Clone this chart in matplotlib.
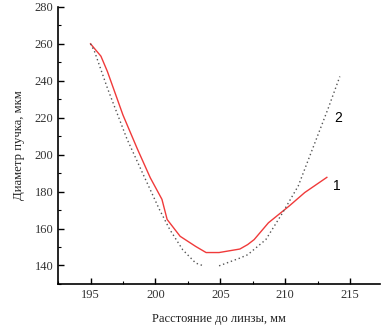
import matplotlib.pyplot as plt
import numpy as np
from matplotlib.ticker import MultipleLocator

# curve 1 (red, solid)
x1 = [195.0, 195.8, 196.3, 197.5, 198.6, 199.6, 200.5, 200.9, 201.9, 203.1, 203.9,
      204.9, 206.5, 207.1, 207.6, 208.7, 210.3, 211.5, 213.2]
y1 = [260.0, 253.3, 245.0, 221.4, 203.2, 187.5, 175.8, 164.9, 155.8, 150.3, 147.0,
      147.0, 148.9, 151.3, 154.0, 163.1, 172.2, 179.5, 187.7]

# curve 2 (grey, dotted), two parts with a gap near the minimum
x2a = [195.0, 195.3, 196.3, 197.8, 199.1, 200.3, 201.1, 202.1, 203.1, 203.7]
y2a = [260.0, 256.0, 236.0, 208.6, 188.6, 170.4, 159.5, 148.5, 141.3, 139.8]
x2b = [204.9, 206.5, 207.1, 208.5, 209.8, 211.0, 212.3, 213.3, 214.2]
y2b = [139.8, 144.0, 145.8, 154.0, 168.6, 183.1, 206.8, 225.0, 242.3]

fig = plt.figure(figsize=(3.82, 3.26), dpi=100)
ax = fig.add_axes([0.152, 0.129, 0.843, 0.85])

ax.plot(x1, y1, color="#f03a3a", lw=1.0)
ax.plot(x2a, y2a, color="#555555", lw=1.0, ls=(0, (1, 2)))
ax.plot(x2b, y2b, color="#555555", lw=1.0, ls=(0, (1, 2)))

ax.text(213.8, 220, "2", fontsize=10, family="Liberation Sans", ha="left", va="center")
ax.text(213.7, 183, "1", fontsize=10, family="Liberation Sans", ha="left", va="center")

ax.set_xlim(192.5, 217.3)
ax.set_ylim(130, 280)
ax.xaxis.set_major_locator(MultipleLocator(5))
ax.xaxis.set_minor_locator(MultipleLocator(2.5))
ax.yaxis.set_major_locator(MultipleLocator(20))
ax.yaxis.set_minor_locator(MultipleLocator(10))
ax.set_yticks([140, 160, 180, 200, 220, 240, 260, 280])

for s in ["top", "right"]:
    ax.spines[s].set_visible(False)
for s in ["left", "bottom"]:
    ax.spines[s].set_linewidth(1.2)

ax.tick_params(which="major", direction="in", length=4, width=1, labelsize=9,
               labelcolor="#333333")
ax.tick_params(which="minor", direction="in", length=2, width=0.8)
for lab in ax.get_xticklabels() + ax.get_yticklabels():
    lab.set_family("Liberation Serif")

ax.set_xlabel("Расстояние до линзы, мм", family="Liberation Serif", fontsize=9,
              color="#222222", labelpad=9)
ax.set_ylabel("Диаметр пучка, мкм", family="Liberation Serif", fontsize=9.2,
              color="#222222", labelpad=7)

fig.savefig("out.png", dpi=100)
